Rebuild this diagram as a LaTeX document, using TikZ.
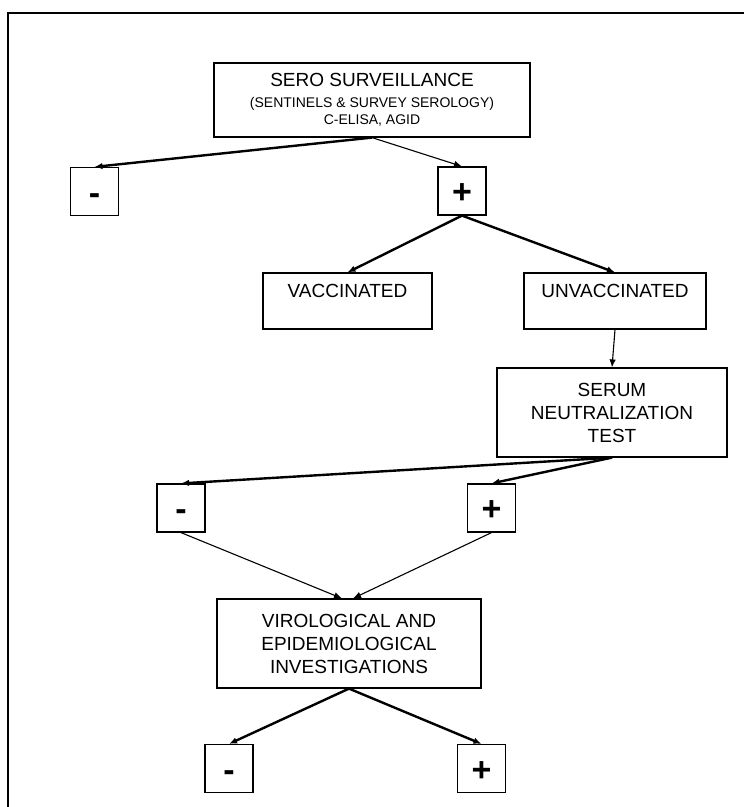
\documentclass[tikz,border=0pt]{standalone}
\usepackage{fontspec}
\setmainfont{Liberation Sans}
\usetikzlibrary{arrows.meta,positioning}

\tikzset{
  box/.style={draw, line width=1.2pt, inner sep=0pt, align=center,
    font=\fontsize{19}{23}\selectfont},
  signbox/.style={draw, line width=1.2pt, inner sep=0pt,
    minimum width=48pt, minimum height=48pt,
    text height=25pt, text depth=0pt,
    font=\fontsize{34}{34}\selectfont\bfseries},
  fatarrow/.style={line width=2.4pt, -{Latex[length=8pt,width=6.5pt]}},
  slimarrow/.style={line width=1.1pt, -{Latex[length=8pt,width=6.5pt]}},
}

\begin{document}
\begin{tikzpicture}[x=1pt,y=-1pt]
\useasboundingbox (0,0) rectangle (744,807);

% frame
\draw[line width=2pt] (7.5,807) -- (7.5,12.5) -- (744,12.5);

\node[box, minimum width=316pt, minimum height=74pt] (sero) at (372,100)
  {\raisebox{-3pt}{SERO SURVEILLANCE}\\[1pt]
   {\fontsize{14}{17}\selectfont (SENTINELS \& SURVEY SEROLOGY)}\\[-6pt]
   {\fontsize{14}{17}\selectfont C-ELISA, AGID}};
\node[signbox] (mtop) at (94.5,191.5) {-};
\node[signbox] (ptop) at (462,191) {+};

\node[box, minimum width=169pt, minimum height=56pt] (vacc) at (347.5,301)
  {VACCINATED\\[-10pt] \strut};
\node[box, minimum width=182pt, minimum height=56pt] (unvacc) at (615,301)
  {UNVACCINATED\\[-10pt] \strut};

\node[box, minimum width=230pt, minimum height=89pt] (serum) at (612,412.5)
  {SERUM\\NEUTRALIZATION\\TEST};
\node[signbox] (mmid) at (181,508) {-};
\node[signbox] (pmid) at (491.5,508) {+};

\node[box, minimum width=264pt, minimum height=89pt] (viro) at (349,643.5)
  {VIROLOGICAL AND\\EPIDEMIOLOGICAL\\INVESTIGATIONS};
\node[signbox] (mbot) at (229,768.5) {-};
\node[signbox] (pbot) at (481.5,768.5) {+};

% connectors
\draw[fatarrow] (sero.south) -- (mtop.north);
\draw[slimarrow] (sero.south) -- (ptop.north);

\draw[fatarrow] (ptop.south) -- (vacc.north);
\draw[fatarrow] (ptop.south) -- (unvacc.north);

\draw[slimarrow] (unvacc.south) -- (serum.north);

\draw[fatarrow] (serum.south) -- (mmid.north);
\draw[fatarrow] (serum.south) -- (pmid.north);

\draw[slimarrow] (mmid.south) -- ([xshift=-7pt]viro.north);
\draw[slimarrow] (pmid.south) -- ([xshift=4pt]viro.north);

\draw[fatarrow] (viro.south) -- (mbot.north);
\draw[fatarrow] (viro.south) -- (pbot.north);
\end{tikzpicture}
\end{document}
